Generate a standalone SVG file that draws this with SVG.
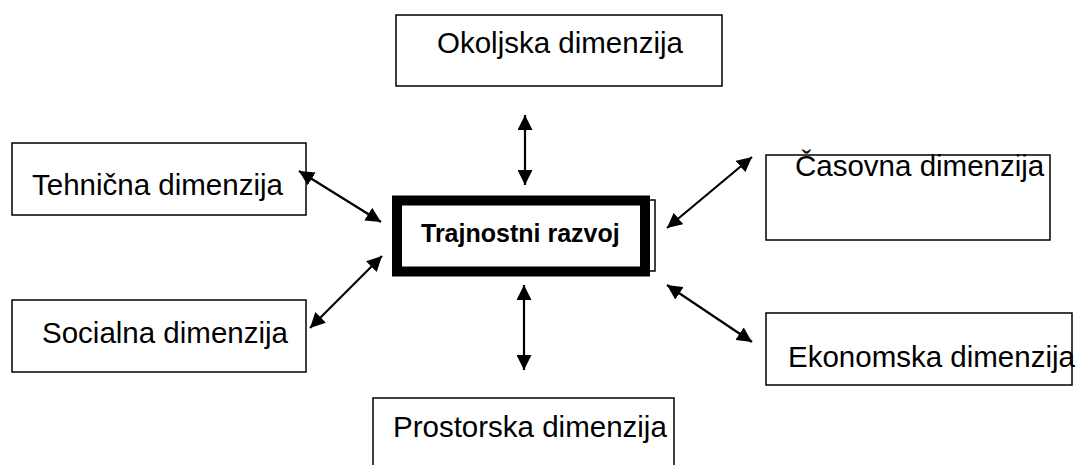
<svg xmlns="http://www.w3.org/2000/svg" width="1076" height="465" viewBox="0 0 1076 465">
<defs>
<style>
.box{fill:#fff;stroke:#000;stroke-width:1.5}
.lbl{font-family:"Liberation Sans",Arial,sans-serif;font-size:29.5px;fill:#000}
.core{font-family:"Liberation Sans",Arial,sans-serif;font-size:25px;font-weight:bold;fill:#000}
.con{stroke:#000;stroke-width:2.2;fill:none;marker-start:url(#ah);marker-end:url(#ah)}
</style>
<marker id="ah" markerUnits="userSpaceOnUse" markerWidth="16" markerHeight="15" refX="15" refY="7.5" orient="auto-start-reverse" viewBox="0 0 16 15">
<path d="M0,0 L15,7.5 L0,15 z" fill="#000"/>
</marker>
</defs>
<rect width="1076" height="465" fill="#fff"/>
<g id="okoljska"><rect class="box" x="396" y="15" width="326" height="71"/><text class="lbl" x="437" y="53">Okoljska dimenzija</text></g>
<g id="tehnicna"><rect class="box" x="12" y="143" width="294" height="72"/><text class="lbl" x="32" y="195">Tehnična dimenzija</text></g>
<g id="casovna"><rect class="box" x="766" y="155" width="284" height="85"/><text class="lbl" x="795" y="176">Časovna dimenzija</text></g>
<g id="socialna"><rect class="box" x="12" y="300" width="294" height="72"/><text class="lbl" x="42" y="343">Socialna dimenzija</text></g>
<g id="ekonomska"><rect class="box" x="766" y="313" width="306" height="72"/><text class="lbl" x="788" y="367">Ekonomska dimenzija</text></g>
<g id="prostorska"><rect class="box" x="373" y="398" width="301" height="80"/><text class="lbl" x="393" y="437">Prostorska dimenzija</text></g>
<g id="trajnostni">
<rect x="600" y="200" width="55" height="71" fill="#fff" stroke="#000" stroke-width="1.5"/>
<rect x="397" y="200.5" width="248" height="71" fill="#fff" stroke="#000" stroke-width="10"/>
<text class="core" x="421" y="242">Trajnostni razvoj</text>
</g>
<g id="connectors">
<line class="con" x1="525" y1="115" x2="525" y2="185"/>
<line class="con" x1="524" y1="285" x2="524" y2="370"/>
<line class="con" x1="299" y1="171" x2="381" y2="222"/>
<line class="con" x1="382" y1="256" x2="310" y2="328"/>
<line class="con" x1="752" y1="157" x2="667" y2="228"/>
<line class="con" x1="667" y1="285" x2="752" y2="342"/>
</g>
</svg>
